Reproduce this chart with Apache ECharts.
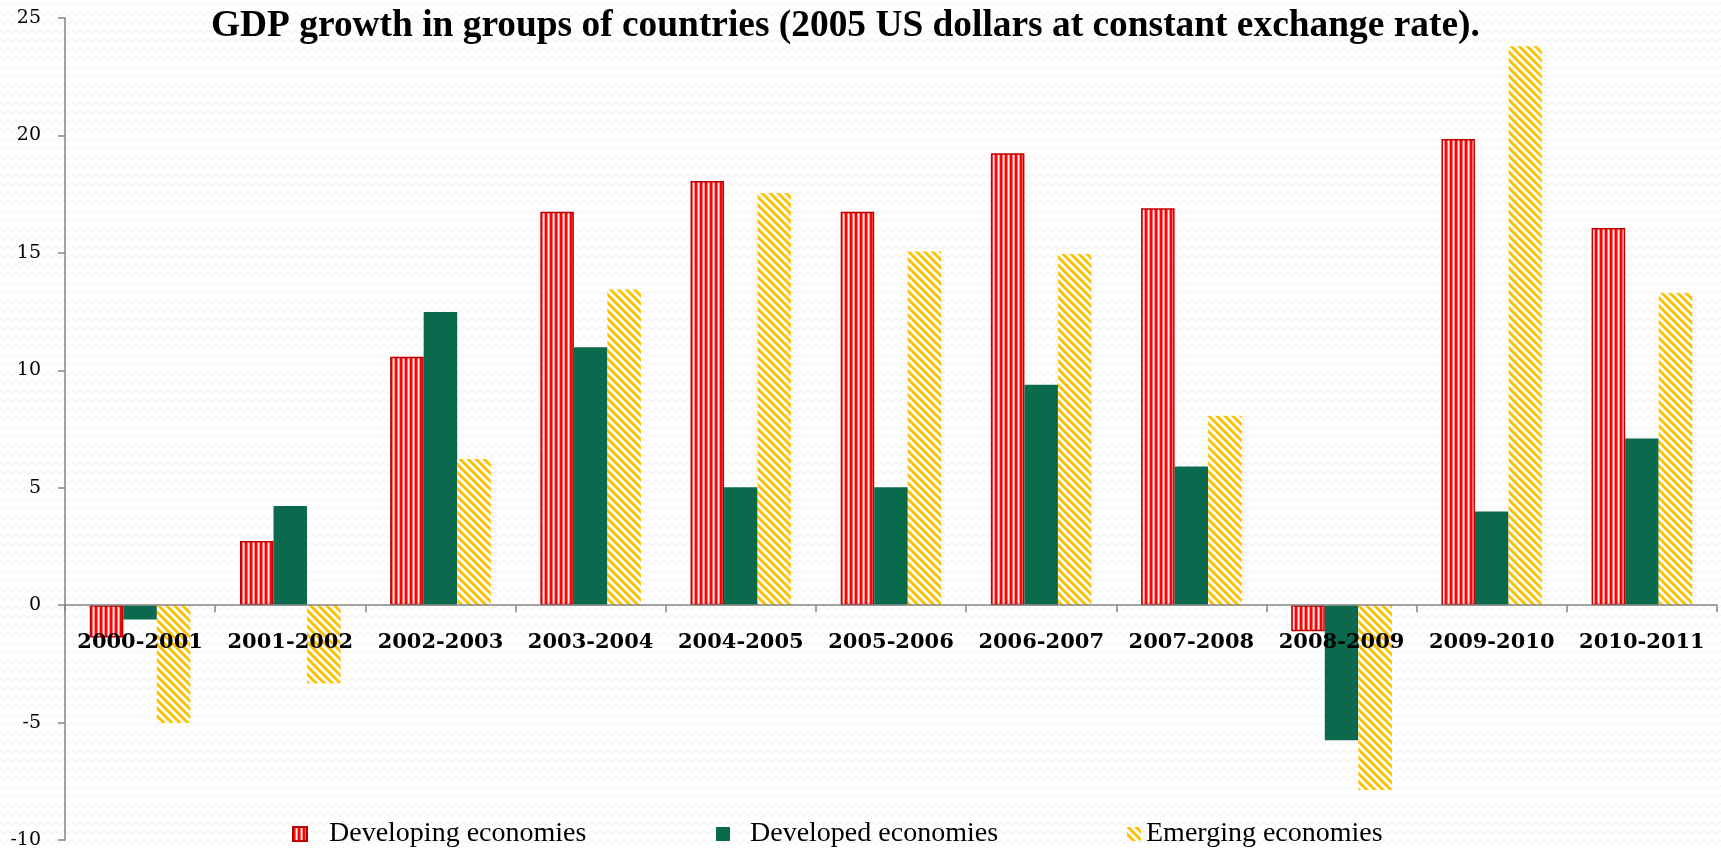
<!DOCTYPE html>
<html>
<head>
<meta charset="utf-8">
<title>GDP growth in groups of countries</title>
<script src="https://cdn.jsdelivr.net/npm/echarts@6/dist/echarts.min.js"></script>
<style>
  html, body { margin: 0; padding: 0; background: #ffffff; }
  #chart { width: 1721px; height: 848px; }
</style>
</head>
<body>
<div id="chart"></div>
<script>
// Periods and yearly GDP growth (%) for each group of countries
const periods = ['2000-2001', '2001-2002', '2002-2003', '2003-2004', '2004-2005', '2005-2006',
                 '2006-2007', '2007-2008', '2008-2009', '2009-2010', '2010-2011'];
const developing = [-1.38, 2.73, 10.58, 16.75, 18.06, 16.75, 19.24, 16.9, -1.11, 19.85, 16.06];
const developed  = [-0.61, 4.22, 12.48, 10.98, 5.02, 5.02, 9.38, 5.9, -5.75, 3.99, 7.1];
const emerging   = [-5.02, -3.34, 6.22, 13.44, 17.55, 15.06, 14.95, 8.06, -7.87, 23.8, 13.29];
const seriesNames = ['Developing economies', 'Developed economies', 'Emerging economies'];
const yTicks = { min: -10, max: 25, step: 5 };

// Small canvas tiles used as repeating fills
function tile(w, h, draw) {
  const c = document.createElement('canvas');
  c.width = w; c.height = h;
  draw(c.getContext('2d'), w, h);
  return c;
}

// vertical red / white pin stripes
const redStripes = tile(5, 4, (ctx) => {
  const cols = ['#ff0000', '#ff0808', '#ff6a6a', '#fff2f2', '#ff8c8c'];
  cols.forEach((col, i) => { ctx.fillStyle = col; ctx.fillRect(i, 0, 1, 4); });
});

// diagonal "\" yellow / white stripes
const yellowDiag = tile(8, 8, (ctx) => {
  const img = ctx.createImageData(8, 8);
  for (let y = 0; y < 8; y++) {
    for (let x = 0; x < 8; x++) {
      const k = ((x - y) % 8 + 8) % 8;
      let r = 255, g = 255, b = 255;
      if (k < 3) { r = 255; g = 192; b = 0; }
      else if (k === 3 || k === 7) { r = 255; g = 222; b = 120; }
      const p = (y * 8 + x) * 4;
      img.data[p] = r; img.data[p + 1] = g; img.data[p + 2] = b; img.data[p + 3] = 255;
    }
  }
  ctx.putImageData(img, 0, 0);
});

// faint zigzag paper texture
const zigzag = tile(8, 9, (ctx) => {
  ctx.fillStyle = '#ffffff';
  ctx.fillRect(0, 0, 8, 9);
  ctx.strokeStyle = '#ececec';
  ctx.lineWidth = 1;
  ctx.beginPath();
  ctx.moveTo(0, 2.5); ctx.lineTo(4, 6.5); ctx.lineTo(8, 2.5);
  ctx.stroke();
});

const axisGrey = '#858585';
const serif = '"Liberation Serif", "Times New Roman", serif';
const numFont = '"DejaVu Serif", serif';

// plot area
const gridTop = 18, gridBottom = 8, chartH = 848;
const plotH = chartH - gridTop - gridBottom;
// the category axis runs along the zero line
const zeroY = gridTop + plotH * yTicks.max / (yTicks.max - yTicks.min);
const xAxisOffset = -(chartH - gridBottom - zeroY);

function legendFor(name, left, gap) {
  return {
    data: [name],
    left: left,
    top: 820,
    orient: 'horizontal',
    padding: 0,
    itemWidth: 14,
    itemHeight: 14,
    icon: 'rect',
    textStyle: {
      fontFamily: serif, fontSize: 28, color: '#000',
      padding: [0, 0, 0, gap]
    }
  };
}

const chart = echarts.init(document.getElementById('chart'), null, { renderer: 'canvas' });
chart.setOption({
  animation: false,
  backgroundColor: { image: zigzag, repeat: 'repeat' },
  title: {
    text: 'GDP growth in groups of countries (2005 US dollars at constant exchange rate).',
    left: 211,
    top: 8,
    padding: 0,
    textStyle: { fontFamily: serif, fontWeight: 'bold', fontSize: 37.4, color: '#000' }
  },
  legend: [
    legendFor(seriesNames[0], 292, 17),
    legendFor(seriesNames[1], 716, 15),
    legendFor(seriesNames[2], 1127, 0)
  ],
  grid: {
    left: 65, right: 4, top: gridTop, bottom: gridBottom,
    containLabel: false, outerBoundsMode: 'none'
  },
  xAxis: {
    type: 'category',
    data: periods,
    z: 10,
    offset: xAxisOffset,
    axisLine: { onZero: false, lineStyle: { color: axisGrey, width: 1.5 } },
    axisTick: { show: true, length: 7, lineStyle: { color: axisGrey, width: 1.5 } },
    axisLabel: {
      interval: 0, margin: 27,
      fontFamily: numFont, fontWeight: 'bold', fontSize: 21, color: '#000'
    },
    splitLine: { show: false }
  },
  yAxis: {
    type: 'value',
    min: yTicks.min, max: yTicks.max, interval: yTicks.step,
    axisLine: { show: true, onZero: false, lineStyle: { color: axisGrey, width: 1.5 } },
    axisTick: { show: true, length: 7, lineStyle: { color: axisGrey, width: 1.5 } },
    axisLabel: { margin: 24, fontFamily: numFont, fontSize: 19, color: '#000' },
    splitLine: { show: false }
  },
  series: [
    {
      name: seriesNames[0], type: 'bar', data: developing,
      barGap: '0%', barCategoryGap: '33%',
      itemStyle: { color: { image: redStripes, repeat: 'repeat' }, borderColor: '#c00000', borderWidth: 1.5 }
    },
    {
      name: seriesNames[1], type: 'bar', data: developed,
      barGap: '0%', barCategoryGap: '33%',
      itemStyle: { color: '#0b6a4d' }
    },
    {
      name: seriesNames[2], type: 'bar', data: emerging,
      barGap: '0%', barCategoryGap: '33%',
      itemStyle: { color: { image: yellowDiag, repeat: 'repeat' } }
    }
  ]
});
</script>
</body>
</html>
